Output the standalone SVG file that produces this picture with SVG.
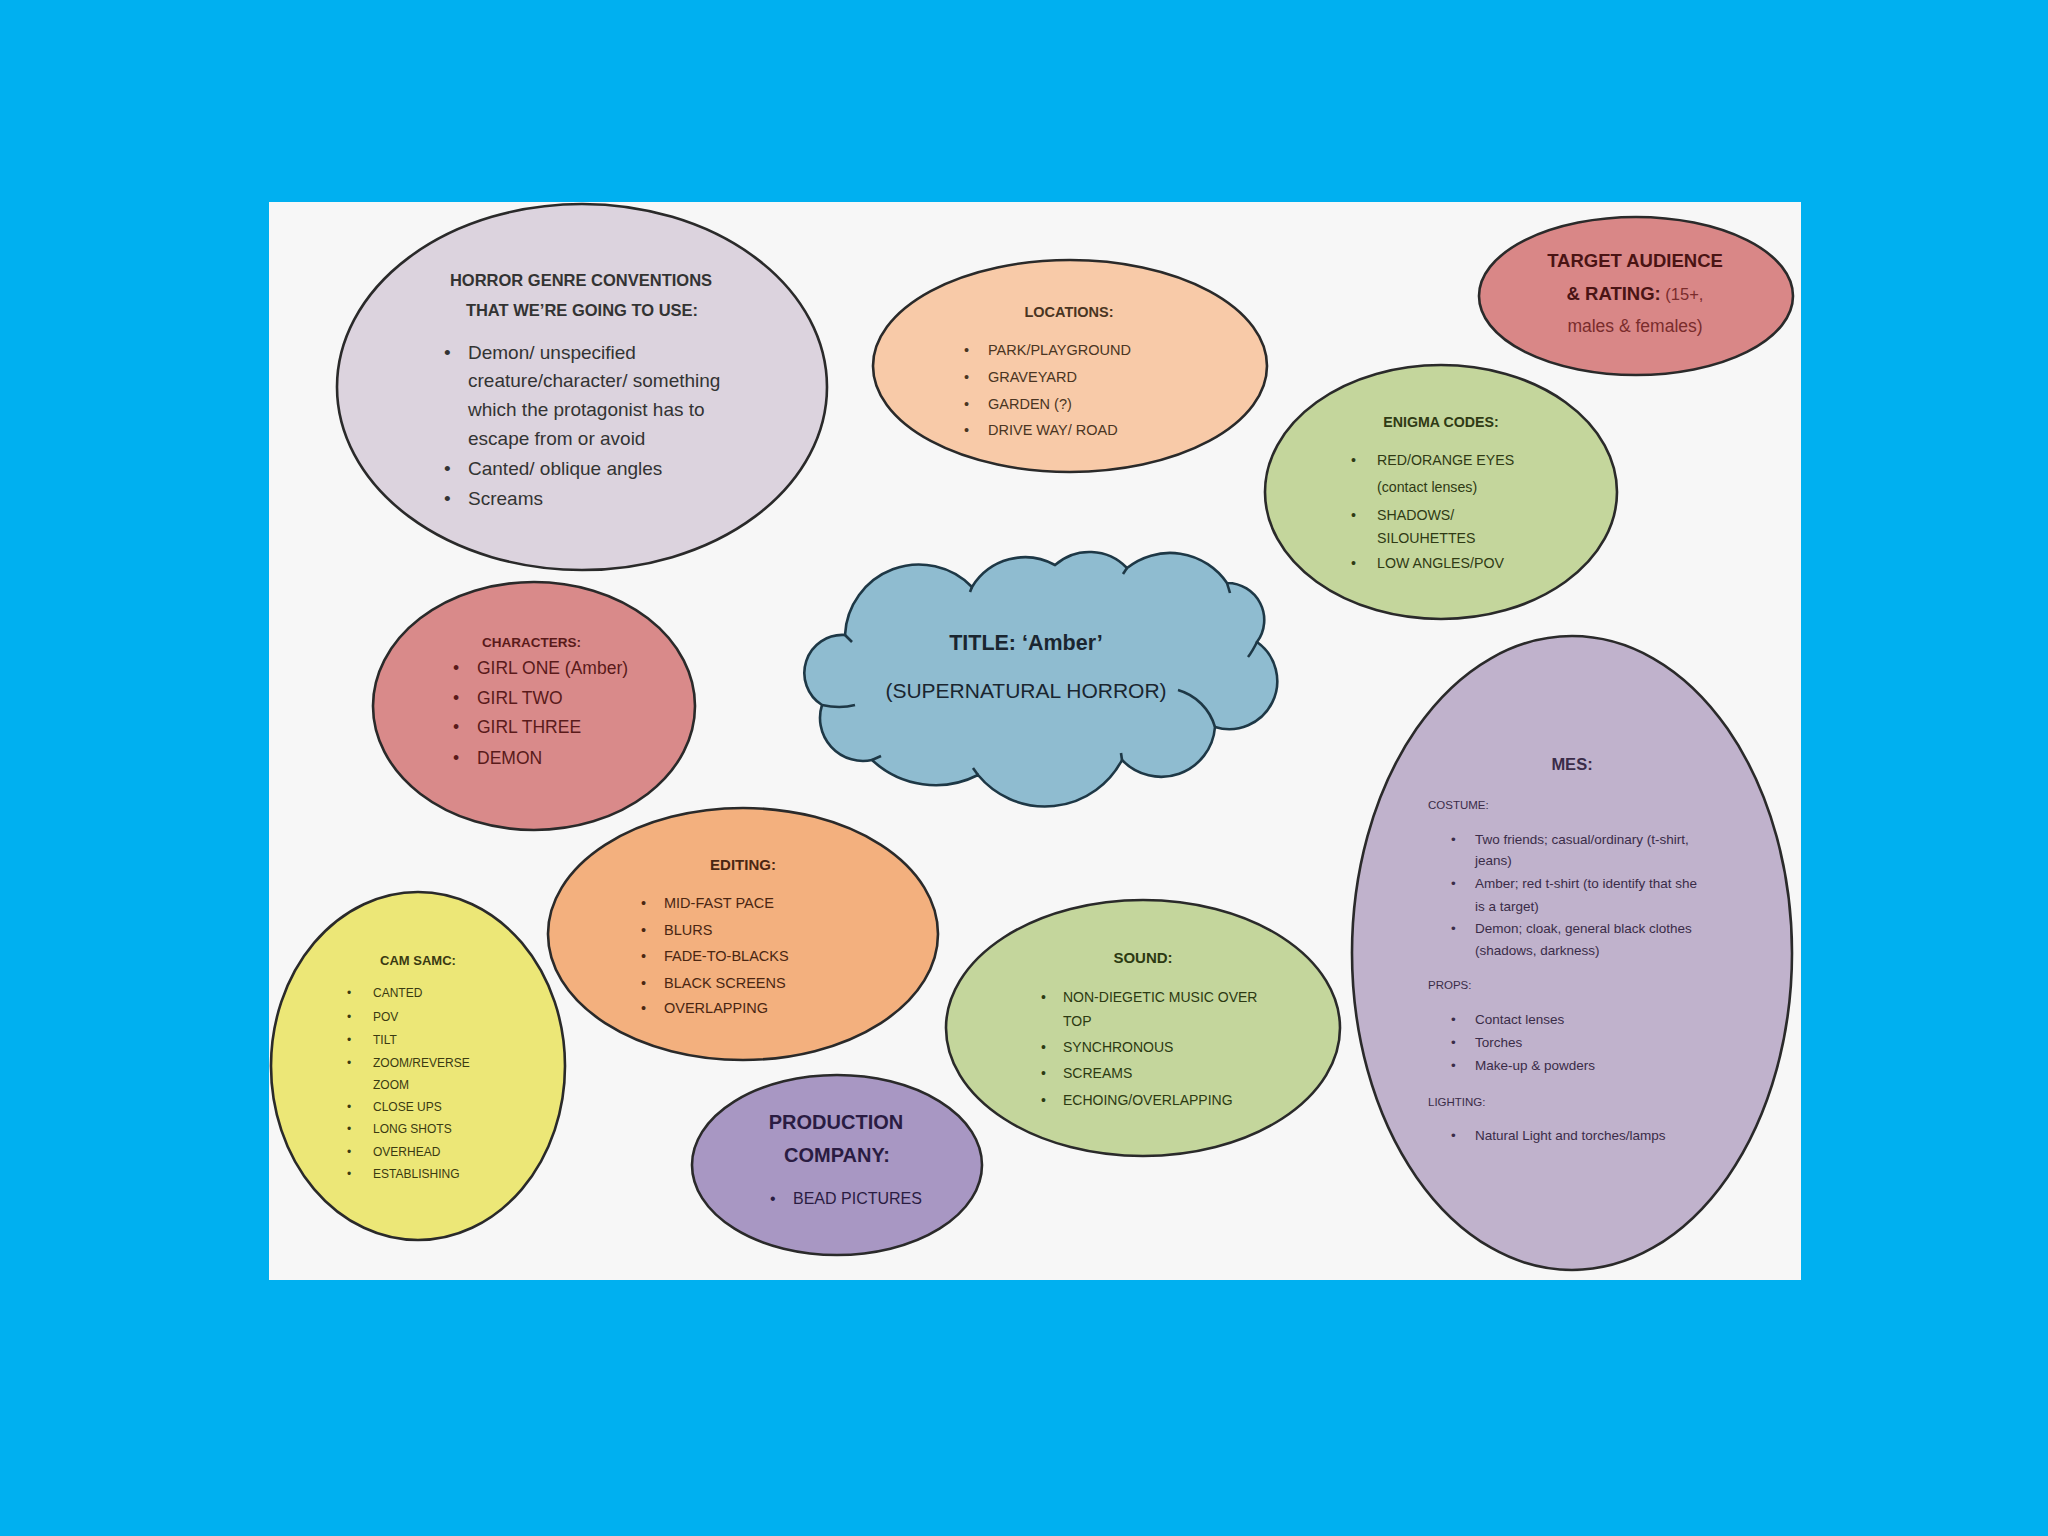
<svg xmlns="http://www.w3.org/2000/svg" width="2048" height="1536" viewBox="0 0 2048 1536">
<style>
.sh{stroke:#2a2a2a;stroke-width:2.6}
text{font-family:"Liberation Sans",Arial,sans-serif}
.b{font-weight:bold}
.c{text-anchor:middle}
.tick{fill:none;stroke:#1e3846;stroke-width:2.6}
</style>
<rect x="0" y="0" width="2048" height="1536" fill="#00b0f0"/>
<rect x="269" y="202" width="1532" height="1078" fill="#f7f7f7"/>
<g id="connectors"/>

<g id="horror">
<ellipse class="sh" cx="582" cy="387" rx="245" ry="183" fill="#dcd3de"/>
<g fill="#333" font-size="19">
<text class="b c" x="581" y="286" font-size="16.5">HORROR GENRE CONVENTIONS</text>
<text class="b c" x="582" y="316" font-size="16.5">THAT WE’RE GOING TO USE:</text>
<text x="444" y="359">•</text><text x="468" y="359">Demon/ unspecified</text>
<text x="468" y="387">creature/character/ something</text>
<text x="468" y="416">which the protagonist has to</text>
<text x="468" y="445">escape from or avoid</text>
<text x="444" y="475">•</text><text x="468" y="475">Canted/ oblique angles</text>
<text x="444" y="505">•</text><text x="468" y="505">Screams</text>
</g>
</g>

<g id="locations">
<ellipse class="sh" cx="1070" cy="366" rx="197" ry="106" fill="#f8caa8"/>
<g fill="#4a3522" font-size="14.5">
<text class="b c" x="1069" y="317">LOCATIONS:</text>
<text x="964" y="355">•</text><text x="988" y="355">PARK/PLAYGROUND</text>
<text x="964" y="382">•</text><text x="988" y="382">GRAVEYARD</text>
<text x="964" y="409">•</text><text x="988" y="409">GARDEN (?)</text>
<text x="964" y="435">•</text><text x="988" y="435">DRIVE WAY/ ROAD</text>
</g>
</g>

<g id="target">
<ellipse class="sh" cx="1636" cy="296" rx="157" ry="79" fill="#d98787"/>
<g fill="#4a1414" font-size="18.5">
<text class="b c" x="1635" y="267">TARGET AUDIENCE</text>
<text class="c" x="1635" y="300"><tspan class="b">&amp; RATING:</tspan><tspan fill="#7a2c2c" font-size="16.5"> (15+,</tspan></text>
<text class="c" x="1635" y="332" fill="#7a2c2c" font-size="17.5">males &amp; females)</text>
</g>
</g>

<g id="enigma">
<ellipse class="sh" cx="1441" cy="492" rx="176" ry="127" fill="#c4d69c"/>
<g fill="#2f3a14" font-size="14.2">
<text class="b c" x="1441" y="427">ENIGMA CODES:</text>
<text x="1351" y="465">•</text><text x="1377" y="465">RED/ORANGE EYES</text>
<text x="1377" y="492">(contact lenses)</text>
<text x="1351" y="520">•</text><text x="1377" y="520">SHADOWS/</text>
<text x="1377" y="543">SILOUHETTES</text>
<text x="1351" y="568">•</text><text x="1377" y="568">LOW ANGLES/POV</text>
</g>
</g>

<g id="characters">
<ellipse class="sh" cx="534" cy="706" rx="161" ry="124" fill="#d98a8a"/>
<g fill="#5a1a1a" font-size="17.5">
<text class="b" x="482" y="647" font-size="13.5">CHARACTERS:</text>
<text x="453" y="674">•</text><text x="477" y="674">GIRL ONE (Amber)</text>
<text x="453" y="704">•</text><text x="477" y="704">GIRL TWO</text>
<text x="453" y="733">•</text><text x="477" y="733">GIRL THREE</text>
<text x="453" y="764">•</text><text x="477" y="764">DEMON</text>
</g>
</g>

<g id="title">
<path d="M845,635 A74,74 0 0 1 972,587 A62,62 0 0 1 1055,565 A52,52 0 0 1 1127,568 A69,69 0 0 1 1227,583 A37,37 0 0 1 1257,642 A48,48 0 0 1 1215,727 A54,54 0 0 1 1122,760 A87,87 0 0 1 978,775 A93,93 0 0 1 872,760 A43,43 0 0 1 822,705 A38,38 0 0 1 845,635 Z" fill="#8fbcd0" stroke="#1e3846" stroke-width="2.6"/>
<path class="tick" d="M822,705 Q840,709 855,705"/>
<path class="tick" d="M1178,690 A54,54 0 0 1 1215,727"/>
<path class="tick" d="M1257,642 Q1252,652 1248,657"/>
<path class="tick" d="M845,635 L852,642"/>
<path class="tick" d="M872,760 L881,756"/>
<path class="tick" d="M978,775 L973,768"/>
<path class="tick" d="M1122,760 L1121,753"/>
<path class="tick" d="M1227,583 L1230,593"/>
<path class="tick" d="M1127,568 L1123,574"/>
<path class="tick" d="M972,587 L970,592"/>
<text class="b c" x="1026" y="650" font-size="21.5" fill="#1a2630">TITLE: ‘Amber’</text>
<text class="c" x="1026" y="698" font-size="21" fill="#1a2630">(SUPERNATURAL HORROR)</text>
</g>

<g id="mes">
<ellipse class="sh" cx="1572" cy="953" rx="220" ry="317" fill="#c0b2cc"/>
<g fill="#3a2c48" font-size="13.5">
<text class="b c" x="1572" y="770" font-size="16.5">MES:</text>
<text x="1428" y="809" font-size="11.5">COSTUME:</text>
<text x="1451" y="844">•</text><text x="1475" y="844">Two friends; casual/ordinary (t-shirt,</text>
<text x="1475" y="865">jeans)</text>
<text x="1451" y="888">•</text><text x="1475" y="888">Amber; red t-shirt (to identify that she</text>
<text x="1475" y="911">is a target)</text>
<text x="1451" y="933">•</text><text x="1475" y="933">Demon; cloak, general black clothes</text>
<text x="1475" y="955">(shadows, darkness)</text>
<text x="1428" y="989" font-size="11.5">PROPS:</text>
<text x="1451" y="1024">•</text><text x="1475" y="1024">Contact lenses</text>
<text x="1451" y="1047">•</text><text x="1475" y="1047">Torches</text>
<text x="1451" y="1070">•</text><text x="1475" y="1070">Make-up &amp; powders</text>
<text x="1428" y="1106" font-size="11.5">LIGHTING:</text>
<text x="1451" y="1140">•</text><text x="1475" y="1140">Natural Light and torches/lamps</text>
</g>
</g>

<g id="cam">
<ellipse class="sh" cx="418" cy="1066" rx="147" ry="174" fill="#ece777"/>
<g fill="#3a3a12" font-size="12">
<text class="b c" x="418" y="965" font-size="13">CAM SAMC:</text>
<text x="347" y="997">•</text><text x="373" y="997">CANTED</text>
<text x="347" y="1021">•</text><text x="373" y="1021">POV</text>
<text x="347" y="1044">•</text><text x="373" y="1044">TILT</text>
<text x="347" y="1067">•</text><text x="373" y="1067">ZOOM/REVERSE</text>
<text x="373" y="1089">ZOOM</text>
<text x="347" y="1111">•</text><text x="373" y="1111">CLOSE UPS</text>
<text x="347" y="1133">•</text><text x="373" y="1133">LONG SHOTS</text>
<text x="347" y="1156">•</text><text x="373" y="1156">OVERHEAD</text>
<text x="347" y="1178">•</text><text x="373" y="1178">ESTABLISHING</text>
</g>
</g>

<g id="editing">
<ellipse class="sh" cx="743" cy="934" rx="195" ry="126" fill="#f3b07e"/>
<g fill="#4a2612" font-size="14.5">
<text class="b c" x="743" y="870" font-size="15">EDITING:</text>
<text x="641" y="908">•</text><text x="664" y="908">MID-FAST PACE</text>
<text x="641" y="935">•</text><text x="664" y="935">BLURS</text>
<text x="641" y="961">•</text><text x="664" y="961">FADE-TO-BLACKS</text>
<text x="641" y="988">•</text><text x="664" y="988">BLACK SCREENS</text>
<text x="641" y="1013">•</text><text x="664" y="1013">OVERLAPPING</text>
</g>
</g>

<g id="sound">
<ellipse class="sh" cx="1143" cy="1028" rx="197" ry="128" fill="#c4d69c"/>
<g fill="#2c3a12" font-size="14">
<text class="b c" x="1143" y="963" font-size="15">SOUND:</text>
<text x="1041" y="1002">•</text><text x="1063" y="1002">NON-DIEGETIC MUSIC OVER</text>
<text x="1063" y="1026">TOP</text>
<text x="1041" y="1052">•</text><text x="1063" y="1052">SYNCHRONOUS</text>
<text x="1041" y="1078">•</text><text x="1063" y="1078">SCREAMS</text>
<text x="1041" y="1105">•</text><text x="1063" y="1105">ECHOING/OVERLAPPING</text>
</g>
</g>

<g id="production">
<ellipse class="sh" cx="837" cy="1165" rx="145" ry="90" fill="#a897c3"/>
<g fill="#2a1c42" font-size="20">
<text class="b c" x="836" y="1129">PRODUCTION</text>
<text class="b c" x="837" y="1162">COMPANY:</text>
<text x="770" y="1204" font-size="16">•</text><text x="793" y="1204" font-size="16">BEAD PICTURES</text>
</g>
</g>
</svg>
